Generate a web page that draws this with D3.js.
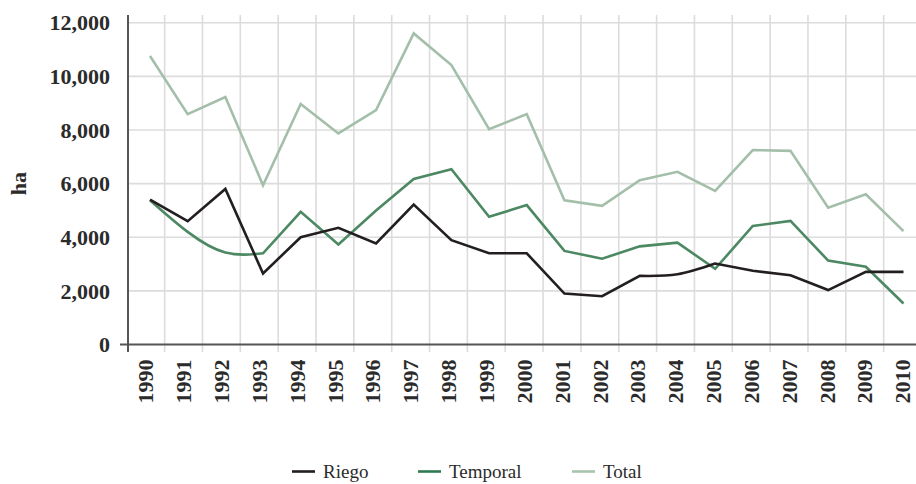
<!DOCTYPE html>
<html>
<head>
<meta charset="utf-8">
<script src="https://cdn.jsdelivr.net/npm/d3@7/dist/d3.min.js"></script>
<style>
  html, body { margin: 0; padding: 0; background: #ffffff; }
  svg { display: block; }
</style>
</head>
<body>
<svg id="chart" width="916" height="484"></svg>
<script>
// Superficie (ha) por modalidad hídrica, 1990–2010
const years = ["1990","1991","1992","1993","1994","1995","1996","1997","1998","1999","2000",
               "2001","2002","2003","2004","2005","2006","2007","2008","2009","2010"];
const riego    = [5400, 4600, 5800, 2650, 4000, 4350, 3770, 5220, 3890, 3400, 3400,
                  1900, 1800, 2560, 2620, 3020, 2750, 2580, 2030, 2710, 2710];
const temporal = [5380, 4200, 3430, 3400, 4950, 3730, 5000, 6170, 6540, 4760, 5200,
                  3490, 3200, 3660, 3800, 2820, 4420, 4610, 3130, 2900, 1530];
const total    = [10760, 8590, 9230, 5940, 8970, 7870, 8740, 11600, 10420, 8030, 8590,
                  5380, 5170, 6130, 6440, 5730, 7250, 7220, 5100, 5600, 4230];
const yTicks = [0, 2000, 4000, 6000, 8000, 10000, 12000];
const seriesNames = ["Riego", "Temporal", "Total"];
const seriesColors = ["#231f20", "#4c8862", "#a4bfa9"];
const legendColors = ["#231f20", "#2f7a50", "#a8c4ae"];
// index ranges of each series drawn as a smoothed run
const smoothRuns = [[[13, 15]], [[0, 3]], []];

const svg = d3.select("#chart");
const W = 916, H = 484;
const FONT = "'Liberation Serif'";

// Category bands for gridlines and labels; point scale for the line vertices
const xBand = d3.scaleBand().domain(years).range([126.8, 921.5]).paddingInner(0).paddingOuter(0);
const xLine = d3.scalePoint().domain(years).range([150, 903.5]);
const y = d3.scaleLinear().domain([0, 12000]).range([344.5, 22.7]);

const plotLeft = 128, plotTop = 15, gridBottom = 352;

// Horizontal gridlines
svg.append("g").selectAll("line").data(yTicks.filter(d => d > 0)).join("line")
  .attr("x1", plotLeft).attr("x2", W)
  .attr("y1", d => y(d)).attr("y2", d => y(d))
  .attr("stroke", "#dcdcdc").attr("stroke-width", 1.6);

// Vertical gridlines at band boundaries
svg.append("g").selectAll("line").data(years.slice(1)).join("line")
  .attr("x1", d => xBand(d)).attr("x2", d => xBand(d))
  .attr("y1", plotTop).attr("y2", gridBottom)
  .attr("stroke", "#dcdcdc").attr("stroke-width", 1.6);

// Axes
svg.append("line")
  .attr("x1", plotLeft).attr("x2", plotLeft)
  .attr("y1", plotTop).attr("y2", gridBottom)
  .attr("stroke", "#555555").attr("stroke-width", 2);
svg.append("line")
  .attr("x1", 120).attr("x2", W)
  .attr("y1", y(0)).attr("y2", y(0))
  .attr("stroke", "#555555").attr("stroke-width", 2);

// Y tick labels
svg.append("g").selectAll("text").data(yTicks).join("text")
  .attr("x", 110).attr("y", d => y(d))
  .attr("dy", "0.35em")
  .attr("text-anchor", "end")
  .attr("font-family", FONT)
  .attr("font-size", 22).attr("font-weight", "bold").attr("fill", "#2b2b2b")
  .text(d => d3.format(",")(d));

// X tick labels (rotated)
svg.append("g").selectAll("text").data(years).join("text")
  .attr("transform", d => `translate(${xBand(d) + xBand.bandwidth() / 2},359.5) rotate(-90)`)
  .attr("dy", "0.35em")
  .attr("text-anchor", "end")
  .attr("font-family", FONT)
  .attr("font-size", 22).attr("font-weight", "bold").attr("fill", "#2b2b2b")
  .text(d => d);

// Y axis title
svg.append("text")
  .attr("transform", `translate(18.5,${(y(0) + y(12000)) / 2}) rotate(-90)`)
  .attr("dy", "0.35em")
  .attr("text-anchor", "middle")
  .attr("font-family", FONT)
  .attr("font-size", 22).attr("font-weight", "bold").attr("fill", "#2b2b2b")
  .text("ha");

// Lines: linear runs joined with smoothed runs into one path
const pts = vals => vals.map((v, i) => [xLine(years[i]), y(v)]);
const linear = d3.line().curve(d3.curveLinear);
const smooth = d3.line().curve(d3.curveNatural);
function seriesPath(vals, runs) {
  const p = pts(vals);
  let d = "", i = 0;
  const pieces = [];
  runs.forEach(([a, b]) => {
    if (a > i) pieces.push([linear, i, a]);
    pieces.push([smooth, a, b]);
    i = b;
  });
  if (i < p.length - 1) pieces.push([linear, i, p.length - 1]);
  pieces.forEach(([gen, a, b], k) => {
    const s = gen(p.slice(a, b + 1));
    d += k === 0 ? s : s.replace(/^M[^LC]*/, "");
  });
  return d;
}

const seriesData = [riego, temporal, total];
// draw Total first so the others sit above it
[2, 1, 0].forEach(k => {
  svg.append("path")
    .attr("d", seriesPath(seriesData[k], smoothRuns[k]))
    .attr("fill", "none")
    .attr("stroke", seriesColors[k])
    .attr("stroke-width", 2.6)
    .attr("stroke-linejoin", "miter");
});

// Legend
const legendX = [292, 418, 572];
const legend = svg.append("g").selectAll("g").data(seriesNames).join("g")
  .attr("transform", (d, i) => `translate(${legendX[i]},471.5)`);
legend.append("line")
  .attr("x1", 0).attr("x2", 23).attr("y1", 0).attr("y2", 0)
  .attr("stroke", (d, i) => legendColors[i]).attr("stroke-width", 2.6);
legend.append("text")
  .attr("x", 31).attr("y", 0).attr("dy", "0.32em")
  .attr("font-family", FONT)
  .attr("font-size", 19).attr("fill", "#2b2b2b")
  .text(d => d);
</script>
</body>
</html>
